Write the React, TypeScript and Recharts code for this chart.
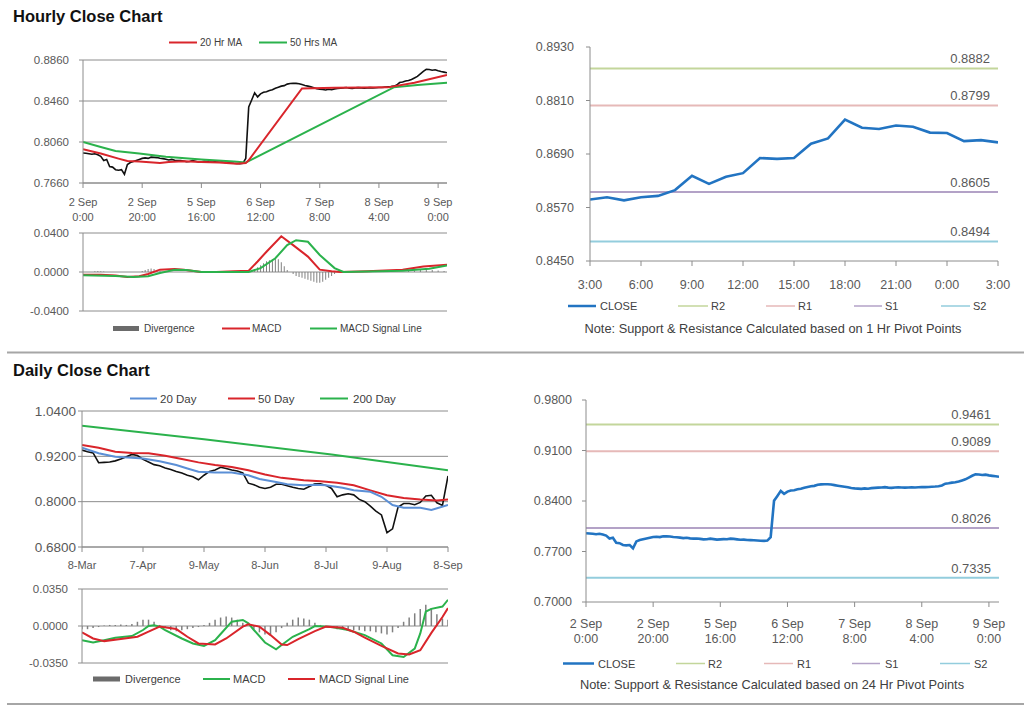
import React from 'react';
import { ComposedChart, Line, Bar, XAxis, YAxis, CartesianGrid, ReferenceLine } from 'recharts';

const FONT = '"Liberation Sans", Arial, Helvetica, sans-serif';
const TICK = '#595959';
const TEXT = '#404040';
const AX = '#8c8c8c';
const RED = '#d9252b';
const GREEN = '#2bb24c';
const BLUE20 = '#5b8fd6';
const CLOSE_BLUE = '#2274c2';
const DIV = '#808080';
const PIVOT_COLORS = ['#c3d69b', '#e6b9b8', '#b3a2c7', '#93cddd'];
const PIVOT_NAMES = ['R2', 'R1', 'S1', 'S2'];

// ---------- Hourly close (2 Sep 0:00 -> 9 Sep 3:00) ----------
const hourTickIdx = [0, 20, 40, 60, 80, 100, 120];
const hourTickDay = ['2 Sep', '2 Sep', '5 Sep', '6 Sep', '7 Sep', '8 Sep', '9 Sep'];
const hourTickTime = ['0:00', '20:00', '16:00', '12:00', '8:00', '4:00', '0:00'];
const hourClose = [
  0.7953, 0.7950, 0.7945, 0.7940, 0.7945, 0.7935,
  0.7920, 0.7880, 0.7890, 0.7820, 0.7815, 0.7790, 0.7785, 0.7790, 0.7745,
  0.7840, 0.7860, 0.7870, 0.7880, 0.7890,
  0.7900, 0.7905, 0.7900, 0.7912, 0.7910, 0.7908, 0.7902, 0.7898,
  0.7892, 0.7885, 0.7890, 0.7882, 0.7878, 0.7880, 0.7875, 0.7868, 0.7870, 0.7878, 0.7872, 0.7865, 0.7868,
  0.7872, 0.7870, 0.7878, 0.7875, 0.7868, 0.7862, 0.7865, 0.7860, 0.7858, 0.7855, 0.7852, 0.7850, 0.7848, 0.7852, 0.7900,
  0.8403, 0.8470, 0.8540, 0.8500, 0.8530,
  0.8545, 0.8550, 0.8562, 0.8570, 0.8585, 0.8595, 0.8605, 0.8610,
  0.8625, 0.8630, 0.8632, 0.8632, 0.8628, 0.8620, 0.8612, 0.8605, 0.8598, 0.8590, 0.8580, 0.8575,
  0.8572, 0.8568, 0.8575, 0.8570, 0.8578, 0.8582, 0.8585, 0.8588, 0.8592, 0.8585,
  0.8582, 0.8588, 0.8590, 0.8588, 0.8585, 0.8588, 0.8590, 0.8588, 0.8590, 0.8592,
  0.8592, 0.8595, 0.8598, 0.8600, 0.8605, 0.8615, 0.8640, 0.8645, 0.8655, 0.8660,
  0.8670, 0.8685, 0.8700, 0.8725, 0.8750, 0.8770, 0.8768, 0.8760, 0.8765, 0.8755,
  0.8748, 0.8742, 0.8736,
];
const hourMa20 = [
  [0, 0.7990], [6, 0.7947], [12, 0.7898], [15, 0.7875], [19, 0.7869], [26, 0.7856], [29, 0.7866],
  [34, 0.7872], [40, 0.7866], [46, 0.7860], [52, 0.7849], [55, 0.7855], [56, 0.7882], [74, 0.8583],
  [85, 0.8590], [103, 0.8593], [112, 0.8638], [123, 0.8713],
];
const hourMa50 = [
  [0, 0.8061], [6, 0.8012], [11, 0.7973], [19, 0.7947], [28, 0.7915], [40, 0.7889], [51, 0.7869],
  [55, 0.7859], [105, 0.8593], [113, 0.8615], [123, 0.8638],
];
const hourMacd = [
  [0, -0.0027], [6, -0.0027], [11, -0.0037], [15, -0.0050], [19, -0.0043], [22, -0.0020], [26, 0.0024],
  [31, 0.0030], [34, 0.0024], [40, 0], [45, 0], [51, 0.0007], [56, 0.0013], [59, 0.0108], [62, 0.0208],
  [67, 0.0366], [71, 0.0276], [76, 0.0158], [80, 0.0024], [84, 0.0007], [87, 0], [96, 0.0007],
  [108, 0.0024], [115, 0.0057], [123, 0.0074],
];
const hourSignal = [
  [0, -0.0034], [11, -0.0040], [17, -0.0050], [22, -0.0043], [26, -0.0010], [31, 0.0024], [35, 0.0020],
  [40, 0], [56, 0], [60, 0.0040], [65, 0.0141], [69, 0.0276], [72, 0.0326], [76, 0.0310], [80, 0.0175],
  [85, 0.0040], [88, 0], [108, 0.0013], [117, 0.0034], [123, 0.0067],
];
const hourDivergence = [
  [4, 0.0008], [5, 0.0010], [6, 0.0008], [7, 0.0005],
  [20, 0.0010], [21, 0.0020], [22, 0.0030], [23, 0.0035], [24, 0.0030], [25, 0.0020], [26, 0.0010],
  [57, 0.0010], [58, 0.0030], [59, 0.0050], [60, 0.0070], [61, 0.0090], [62, 0.0110], [63, 0.0120],
  [64, 0.0130], [65, 0.0140], [66, 0.0130], [67, 0.0100], [68, 0.0060], [69, 0.0020],
  [71, -0.0020], [72, -0.0040], [73, -0.0050], [74, -0.0060], [75, -0.0070], [76, -0.0080], [77, -0.0090],
  [78, -0.0100], [79, -0.0110], [80, -0.0110], [81, -0.0100], [82, -0.0080], [83, -0.0060], [84, -0.0040],
  [85, -0.0020],
  [110, 0.0010], [112, 0.0015], [114, 0.0020], [116, 0.0025], [118, 0.0020], [120, 0.0015], [122, 0.0010],
];

// ---------- Last 24 hours (1 Hr pivots) ----------
const snapTickIdx = [0, 3, 6, 9, 12, 15, 18, 21, 24];
const snapTickLabels = ['3:00', '6:00', '9:00', '12:00', '15:00', '18:00', '21:00', '0:00', '3:00'];
const snapClose = [
  0.8588, 0.8593, 0.8586, 0.8593, 0.8596, 0.8609, 0.8641, 0.8623, 0.8639, 0.8647,
  0.8681, 0.8679, 0.8681, 0.8713, 0.8725, 0.8767, 0.8749, 0.8746, 0.8754, 0.8751,
  0.8738, 0.8737, 0.8719, 0.8721, 0.8716,
];
const hourPivots = [0.8882, 0.8799, 0.8605, 0.8494];
const dayPivots = [0.9461, 0.9089, 0.8026, 0.7335];

// ---------- Daily close (8-Mar -> 8-Sep) ----------
const dayTickIdx = [0, 11, 22, 33, 44, 55, 66];
const dayTickLabels = ['8-Mar', '7-Apr', '9-May', '8-Jun', '8-Jul', '9-Aug', '8-Sep'];
const dayClose = [
  0.9365, 0.9320, 0.9290, 0.9030, 0.9040, 0.9050, 0.9080, 0.9130, 0.9190, 0.9250,
  0.9220, 0.9120, 0.9050, 0.8980, 0.8950, 0.8890, 0.8850, 0.8800, 0.8760, 0.8700,
  0.8660, 0.8580, 0.8700, 0.8800, 0.8840, 0.8910, 0.8880, 0.8840, 0.8810, 0.8760,
  0.8490, 0.8450, 0.8380, 0.8350, 0.8380, 0.8460, 0.8460, 0.8420, 0.8380, 0.8350,
  0.8330, 0.8400, 0.8470, 0.8470, 0.8430, 0.8350, 0.8130, 0.8180, 0.8210, 0.8180,
  0.8060, 0.8000, 0.7880, 0.7750, 0.7650, 0.7180, 0.7280, 0.7860, 0.7950, 0.7950,
  0.7920, 0.7980, 0.8150, 0.8170, 0.7970, 0.7900, 0.8680,
];
const dayMa20 = [
  [0, 0.9427], [3, 0.928], [6, 0.919], [9, 0.916], [11, 0.914], [14, 0.907], [17, 0.897], [19, 0.888],
  [21, 0.879], [24, 0.877], [27, 0.877], [30, 0.870], [32, 0.860], [35, 0.852], [37, 0.846], [40, 0.8436],
  [42, 0.845], [44, 0.8436], [47, 0.8366], [49, 0.830], [52, 0.826], [54, 0.813], [56, 0.791], [58, 0.784],
  [61, 0.784], [63, 0.778], [66, 0.791],
];
const dayMa50 = [
  [0, 0.9498], [3, 0.9427], [6, 0.932], [9, 0.929], [12, 0.928], [15, 0.9215], [18, 0.913], [21, 0.904],
  [24, 0.897], [27, 0.892], [30, 0.883], [33, 0.872], [36, 0.863], [40, 0.857], [43, 0.854], [46, 0.850],
  [49, 0.8436], [52, 0.830], [55, 0.817], [58, 0.810], [61, 0.8056], [64, 0.803], [66, 0.8056],
];
const dayMa200 = [[0, 1.001], [22, 0.965], [45, 0.925], [66, 0.8834]];
const dayMacd = [
  [0, -0.0134], [2, -0.0156], [4, -0.0134], [6, -0.0111], [9, -0.0095], [11, -0.0038], [12, 0], [13, 0.0006],
  [14, -0.0006], [15, -0.0038], [18, -0.0118], [20, -0.0165], [22, -0.0188], [24, -0.0134], [25, -0.0076],
  [27, 0.0041], [29, 0.0057], [30, 0.0025], [31, -0.0038], [33, -0.0156], [35, -0.0220], [36, -0.0180],
  [38, -0.0102], [41, -0.0029], [42, 0], [45, -0.0010], [48, -0.0038], [51, -0.0086], [54, -0.0165],
  [56, -0.0277], [58, -0.0293], [60, -0.0213], [61, -0.0070], [62, 0.0137], [63, 0.0162], [65, 0.0184],
  [66, 0.0248],
];
const daySignal = [
  [0, -0.0060], [2, -0.0118], [4, -0.0143], [7, -0.0124], [10, -0.0102], [12, -0.0054], [14, -0.0006],
  [17, -0.0029], [19, -0.0102], [21, -0.0165], [24, -0.0175], [26, -0.0118], [29, -0.0006], [30, 0.0016],
  [32, -0.0006], [34, -0.0086], [36, -0.0175], [37, -0.0180], [39, -0.0124], [42, -0.0048], [44, -0.0006],
  [47, -0.0016], [49, -0.0054], [51, -0.0111], [54, -0.0188], [57, -0.0260], [59, -0.0270], [61, -0.0229],
  [63, -0.0065], [65, 0.0085], [66, 0.0169],
];
const dayDivergence = [
  -0.003, -0.003, -0.002, -0.001, 0.0005, 0.001, 0.001, 0.0015, 0.001, 0.002,
  0.004, 0.006, 0.006, 0.004, 0.001, -0.002, -0.004, -0.005, -0.004, -0.003,
  -0.002, -0.001, 0.001, 0.003, 0.006, 0.008, 0.009, 0.008, 0.006, 0.003,
  0.0, -0.003, -0.006, -0.008, -0.008, -0.006, -0.002, 0.003, 0.006, 0.008,
  0.007, 0.006, 0.003, 0.001, -0.001, -0.002, -0.003, -0.003, -0.004, -0.004,
  -0.004, -0.005, -0.005, -0.006, -0.007, -0.008, -0.006, -0.002, 0.004, 0.008,
  0.012, 0.016, 0.020, 0.017, 0.011, 0.007, 0.006,
];

// ---------- table builders ----------
const toMap = (pairs: number[][]) => {
  const m: Record<number, number> = {};
  pairs.forEach(([i, v]) => { m[i] = v; });
  return m;
};
const hm20 = toMap(hourMa20), hm50 = toMap(hourMa50), hmacd = toMap(hourMacd), hsig = toMap(hourSignal), hdiv = toMap(hourDivergence);
const hourData = hourClose.map((c, i) => ({ i, close: c, ma20: hm20[i], ma50: hm50[i] }));
const hourMacdData = hourClose.map((_, i) => ({ i, macd: hmacd[i], signal: hsig[i], div: hdiv[i] }));
const snapData = snapClose.map((c, i) => ({ i, close: c }));
const dm20 = toMap(dayMa20), dm50 = toMap(dayMa50), dm200 = toMap(dayMa200), dmacd = toMap(dayMacd), dsig = toMap(daySignal);
const dayData = dayClose.map((c, i) => ({ i, close: c, ma20: dm20[i], ma50: dm50[i], ma200: dm200[i] }));
const dayMacdData = dayClose.map((_, i) => ({ i, macd: dmacd[i], signal: dsig[i], div: dayDivergence[i] }));

const fmt4 = (v: number) => v.toFixed(4);

const twoLineTick = (idx: number[], l1: string[], l2: string[], d1: number, d2: number, fs: number) => (props: any) => {
  const { x, y, payload } = props;
  const k = idx.indexOf(payload.value);
  if (k < 0) return <g />;
  return (
    <g>
      <text x={x} y={y + d1} textAnchor="middle" fontSize={fs} fill={TICK} fontFamily={FONT}>{l1[k]}</text>
      <text x={x} y={y + d2} textAnchor="middle" fontSize={fs} fill={TICK} fontFamily={FONT}>{l2[k]}</text>
    </g>
  );
};
const oneLineTick = (idx: number[], l1: string[], d1: number, fs: number) => (props: any) => {
  const { x, y, payload } = props;
  const k = idx.indexOf(payload.value);
  if (k < 0) return <g />;
  return <text x={x} y={y + d1} textAnchor="middle" fontSize={fs} fill={TICK} fontFamily={FONT}>{l1[k]}</text>;
};

const PivotLabel = (props: any) => {
  const vb = props.viewBox || { x: 0, y: 0, width: 0 };
  return (
    <text x={vb.x + vb.width - 8} y={vb.y - 5} textAnchor="end" fontSize={13} fill={TICK} fontFamily={FONT}>{props.text}</text>
  );
};

const yTick = (fs: number) => ({ fontSize: fs, fill: TICK, fontFamily: FONT });

const Abs = ({ left, top, children }: any) => (
  <div style={{ position: 'absolute', left, top }}>{children}</div>
);

const LegLine = ({ x1, x2, y, color, w = 2, label, tx, fs }: any) => (
  <g>
    <line x1={x1} x2={x2} y1={y} y2={y} stroke={color} strokeWidth={w} />
    <text x={tx} y={y} dominantBaseline="central" fontSize={fs} fill={TEXT} fontFamily={FONT}>{label}</text>
  </g>
);
const LegBox = ({ x1, x2, y, label, tx, fs }: any) => (
  <g>
    <rect x={x1} y={y - 2.5} width={x2 - x1} height={5} fill="#6b6b6b" />
    <text x={tx} y={y} dominantBaseline="central" fontSize={fs} fill={TEXT} fontFamily={FONT}>{label}</text>
  </g>
);

export default function App() {
  return (
    <div style={{ position: 'absolute', left: 0, top: 0, width: 1024, height: 706, background: '#fff', fontFamily: FONT, overflow: 'hidden' }}>
      {/* Panel A: hourly close */}
      <Abs left={0} top={0}>
        <ComposedChart width={475} height={230} data={hourData} margin={{ top: 60, right: 28, bottom: 7, left: 0 }}>
          <CartesianGrid vertical={false} stroke={AX} />
          <XAxis type="number" dataKey="i" domain={[0, hourClose.length - 1]} ticks={hourTickIdx} interval={0} allowDataOverflow
            height={40} tickSize={5} tickMargin={0} axisLine={{ stroke: AX }} tickLine={{ stroke: AX }}
            tick={twoLineTick(hourTickIdx, hourTickDay, hourTickTime, 18, 33, 11)} />
          <YAxis type="number" domain={[0.766, 0.886]} ticks={[0.766, 0.806, 0.846, 0.886]} interval={0} allowDataOverflow
            width={83} tickFormatter={fmt4} tickSize={4} tickMargin={10} tick={yTick(11.5)} axisLine={{ stroke: AX }} tickLine={{ stroke: AX }} />
          <Line type="linear" dataKey="close" stroke="#111" strokeWidth={1.6} dot={false} isAnimationActive={false} />
          <Line type="linear" dataKey="ma50" stroke={GREEN} strokeWidth={2} dot={false} connectNulls isAnimationActive={false} />
          <Line type="linear" dataKey="ma20" stroke={RED} strokeWidth={2} dot={false} connectNulls isAnimationActive={false} />
        </ComposedChart>
      </Abs>

      {/* Panel A2: hourly MACD */}
      <Abs left={0} top={222}>
        <ComposedChart width={460} height={100} data={hourMacdData} margin={{ top: 11, right: 13, bottom: 11, left: 0 }}>
          <CartesianGrid vertical={false} stroke={AX} />
          <XAxis type="number" dataKey="i" domain={[0, hourClose.length - 1]} hide allowDataOverflow />
          <YAxis type="number" domain={[-0.04, 0.04]} ticks={[-0.04, 0, 0.04]} interval={0} allowDataOverflow
            width={83} tickFormatter={fmt4} tickSize={4} tickMargin={10} tick={yTick(11.5)} axisLine={{ stroke: AX }} tickLine={{ stroke: AX }} />
          <Bar dataKey="div" fill={DIV} barSize={1} isAnimationActive={false} />
          <Line type="linear" dataKey="macd" stroke={RED} strokeWidth={2} dot={false} connectNulls isAnimationActive={false} />
          <Line type="linear" dataKey="signal" stroke={GREEN} strokeWidth={2} dot={false} connectNulls isAnimationActive={false} />
        </ComposedChart>
      </Abs>

      {/* Panel B: last 24h with 1 Hr pivots */}
      <Abs left={500} top={0}>
        <ComposedChart width={520} height={300} data={snapData} margin={{ top: 47, right: 22, bottom: 8, left: 0 }}>
          <XAxis type="number" dataKey="i" domain={[0, snapClose.length - 1]} ticks={snapTickIdx} interval={0} allowDataOverflow
            height={31} tickSize={5} tickMargin={0} axisLine={{ stroke: AX }} tickLine={{ stroke: AX }}
            tick={oneLineTick(snapTickIdx, snapTickLabels, 22.5, 12.5)} />
          <YAxis type="number" domain={[0.845, 0.893]} ticks={[0.845, 0.857, 0.869, 0.881, 0.893]} interval={0} allowDataOverflow
            width={90} tickFormatter={fmt4} tickSize={4} tickMargin={12} tick={yTick(12.5)} axisLine={{ stroke: AX }} tickLine={{ stroke: AX }} />
          {hourPivots.map((v, k) => (
            <ReferenceLine key={k} y={v} stroke={PIVOT_COLORS[k]} strokeWidth={2} ifOverflow="extendDomain"
              label={<PivotLabel text={fmt4(v)} />} />
          ))}
          <Line type="linear" dataKey="close" stroke={CLOSE_BLUE} strokeWidth={2.6} dot={false} isAnimationActive={false} />
        </ComposedChart>
      </Abs>

      {/* Panel C: daily close */}
      <Abs left={0} top={350}>
        <ComposedChart width={480} height={230} data={dayData} margin={{ top: 61, right: 32, bottom: 8, left: 0 }}>
          <CartesianGrid vertical={false} stroke={AX} />
          <XAxis type="number" dataKey="i" domain={[0, dayClose.length - 1]} ticks={dayTickIdx} interval={0} allowDataOverflow
            height={25} tickSize={5} tickMargin={0} axisLine={{ stroke: AX }} tickLine={{ stroke: AX }}
            tick={oneLineTick(dayTickIdx, dayTickLabels, 17, 11)} />
          <YAxis type="number" domain={[0.68, 1.04]} ticks={[0.68, 0.8, 0.92, 1.04]} interval={0} allowDataOverflow
            width={82} tickFormatter={fmt4} tickSize={4} tickMargin={2} tick={yTick(13.5)} axisLine={{ stroke: AX }} tickLine={{ stroke: AX }} />
          <Line type="linear" dataKey="close" stroke="#111" strokeWidth={1.6} dot={false} isAnimationActive={false} />
          <Line type="linear" dataKey="ma200" stroke={GREEN} strokeWidth={2} dot={false} connectNulls isAnimationActive={false} />
          <Line type="linear" dataKey="ma50" stroke={RED} strokeWidth={2} dot={false} connectNulls isAnimationActive={false} />
          <Line type="linear" dataKey="ma20" stroke={BLUE20} strokeWidth={2} dot={false} connectNulls isAnimationActive={false} />
        </ComposedChart>
      </Abs>

      {/* Panel E: daily MACD */}
      <Abs left={0} top={578}>
        <ComposedChart width={460} height={96} data={dayMacdData} margin={{ top: 11, right: 12, bottom: 11, left: 0 }}>
          <CartesianGrid vertical={false} stroke={AX} />
          <XAxis type="number" dataKey="i" domain={[0, dayClose.length - 1]} hide allowDataOverflow />
          <YAxis type="number" domain={[-0.035, 0.035]} ticks={[-0.035, 0, 0.035]} interval={0} allowDataOverflow
            width={82} tickFormatter={fmt4} tickSize={4} tickMargin={10} tick={yTick(11.5)} axisLine={{ stroke: AX }} tickLine={{ stroke: AX }} />
          <Bar dataKey="div" fill={DIV} barSize={1.5} isAnimationActive={false} />
          <Line type="linear" dataKey="macd" stroke={GREEN} strokeWidth={2} dot={false} connectNulls isAnimationActive={false} />
          <Line type="linear" dataKey="signal" stroke={RED} strokeWidth={2} dot={false} connectNulls isAnimationActive={false} />
        </ComposedChart>
      </Abs>

      {/* Panel D: hourly close with 24 Hr pivots */}
      <Abs left={500} top={350}>
        <ComposedChart width={520} height={300} data={hourData} margin={{ top: 50, right: 21, bottom: 8, left: 0 }}>
          <XAxis type="number" dataKey="i" domain={[0, hourClose.length - 1]} ticks={hourTickIdx} interval={0} allowDataOverflow
            height={40} tickSize={5} tickMargin={0} axisLine={{ stroke: AX }} tickLine={{ stroke: AX }}
            tick={twoLineTick(hourTickIdx, hourTickDay, hourTickTime, 20.5, 35.5, 12.5)} />
          <YAxis type="number" domain={[0.7, 0.98]} ticks={[0.7, 0.77, 0.84, 0.91, 0.98]} interval={0} allowDataOverflow
            width={86} tickFormatter={fmt4} tickSize={4} tickMargin={10} tick={yTick(12.5)} axisLine={{ stroke: AX }} tickLine={{ stroke: AX }} />
          {dayPivots.map((v, k) => (
            <ReferenceLine key={k} y={v} stroke={PIVOT_COLORS[k]} strokeWidth={2} ifOverflow="extendDomain"
              label={<PivotLabel text={fmt4(v)} />} />
          ))}
          <Line type="linear" dataKey="close" stroke={CLOSE_BLUE} strokeWidth={2.6} dot={false} isAnimationActive={false} />
        </ComposedChart>
      </Abs>

      {/* Overlay: titles, legends, notes, separators */}
      <svg width={1024} height={706} style={{ position: 'absolute', left: 0, top: 0, pointerEvents: 'none' }}>
        <text x={13} y={22} fontSize={16.5} fontWeight="bold" fill="#111" fontFamily={FONT}>Hourly Close Chart</text>
        <text x={13} y={376} fontSize={16.5} fontWeight="bold" fill="#111" fontFamily={FONT}>Daily Close Chart</text>
        <rect x={7} y={351.5} width={1017} height={2} fill="#a6a6a6" />
        <rect x={7} y={703} width={1017} height={2} fill="#a6a6a6" />

        <LegLine x1={169} x2={197} y={42.5} color={RED} label="20 Hr MA" tx={200} fs={10} />
        <LegLine x1={259} x2={287} y={42.5} color={GREEN} label="50 Hrs MA" tx={290} fs={10} />

        <LegBox x1={113} x2={139} y={328.5} label="Divergence" tx={144} fs={10} />
        <LegLine x1={222} x2={250} y={328.5} color={RED} label="MACD" tx={252} fs={10} />
        <LegLine x1={310} x2={337} y={328.5} color={GREEN} label="MACD Signal Line" tx={340} fs={10} />

        <LegLine x1={568} x2={596} y={306} color={CLOSE_BLUE} w={2.5} label="CLOSE" tx={600} fs={11} />
        {PIVOT_NAMES.map((n, k) => (
          <LegLine key={n} x1={[678, 766, 854, 941][k]} x2={[708, 795, 882, 970][k]} y={306} color={PIVOT_COLORS[k]} w={1.5}
            label={n} tx={[711, 798, 885, 973][k]} fs={11} />
        ))}
        <text x={773} y={328.5} textAnchor="middle" dominantBaseline="central" fontSize={12.8} fill={TEXT} fontFamily={FONT}>
          Note: Support &amp; Resistance Calculated based on 1 Hr Pivot Points
        </text>

        <LegLine x1={130} x2={157} y={398.5} color={BLUE20} label="20 Day" tx={160} fs={11.5} />
        <LegLine x1={228} x2={255} y={398.5} color={RED} label="50 Day" tx={258} fs={11.5} />
        <LegLine x1={320} x2={348} y={398.5} color={GREEN} label="200 Day" tx={353} fs={11.5} />

        <LegBox x1={93} x2={120} y={679} label="Divergence" tx={125} fs={11} />
        <LegLine x1={203} x2={230} y={679} color={GREEN} label="MACD" tx={233} fs={11} />
        <LegLine x1={288} x2={315} y={679} color={RED} label="MACD Signal Line" tx={319} fs={11} />

        <LegLine x1={563} x2={594} y={663.5} color={CLOSE_BLUE} w={2.5} label="CLOSE" tx={598} fs={11} />
        {PIVOT_NAMES.map((n, k) => (
          <LegLine key={'d' + n} x1={[676, 764, 852, 940][k]} x2={[705, 793, 880, 970][k]} y={663.5} color={PIVOT_COLORS[k]} w={1.5}
            label={n} tx={[708, 797, 885, 974][k]} fs={11} />
        ))}
        <text x={772} y={684.5} textAnchor="middle" dominantBaseline="central" fontSize={12.8} fill={TEXT} fontFamily={FONT}>
          Note: Support &amp; Resistance Calculated based on 24 Hr Pivot Points
        </text>
      </svg>
    </div>
  );
}
